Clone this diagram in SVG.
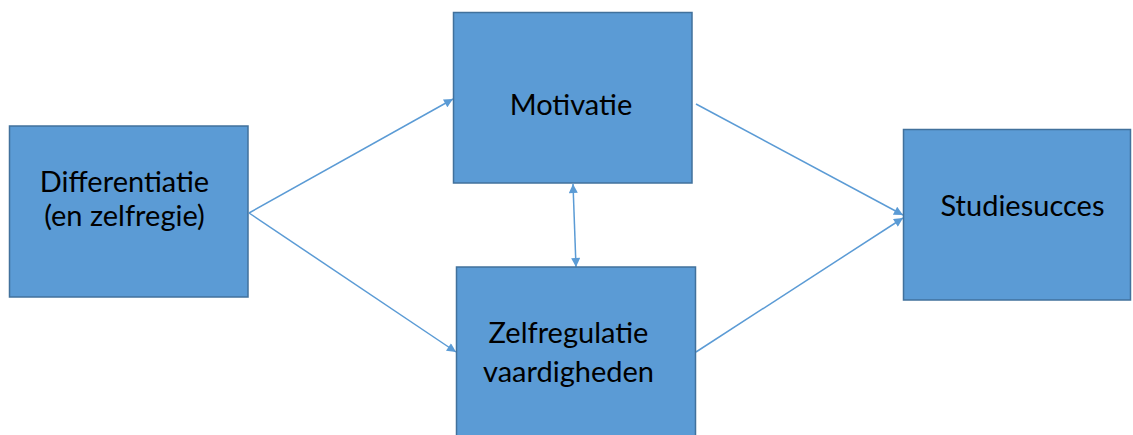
<svg xmlns="http://www.w3.org/2000/svg" width="1133" height="435" viewBox="0 0 1133 435">
  <style>
    .box { fill: #5B9BD5; stroke: #41719C; stroke-width: 1.5; }
    .lbl { font-family: Lato, "Open Sans", sans-serif; font-size: 29px; fill: #000; text-anchor: middle; }
    .con { stroke: #5B9BD5; stroke-width: 1.5; fill: none; }
  </style>
  <defs>
    <marker id="ah" viewBox="0 0 10 10" refX="10" refY="5" markerWidth="10" markerHeight="9" markerUnits="userSpaceOnUse" orient="auto-start-reverse">
      <path d="M0,0 L10,5 L0,10 z" fill="#5B9BD5"/>
    </marker>
  </defs>
  <rect width="1133" height="435" fill="#fff"/>
  <g id="connectors">
    <line class="con" x1="249" y1="213" x2="453" y2="99" marker-end="url(#ah)"/>
    <line class="con" x1="249" y1="213" x2="456" y2="352" marker-end="url(#ah)"/>
    <line class="con" x1="696" y1="104" x2="903" y2="215" marker-end="url(#ah)"/>
    <line class="con" x1="696" y1="352" x2="903" y2="218" marker-end="url(#ah)"/>
    <line class="con" x1="573" y1="184" x2="576" y2="267" marker-start="url(#ah)" marker-end="url(#ah)"/>
  </g>
  <g id="differentiatie">
    <rect class="box" x="9.5" y="126" width="238.5" height="171"/>
    <text class="lbl" x="124.5" y="192">Differentiatie</text>
    <text class="lbl" x="124.5" y="226">(en zelfregie)</text>
  </g>
  <g id="motivatie">
    <rect class="box" x="453.5" y="12.5" width="238.5" height="170.5"/>
    <text class="lbl" x="571" y="115">Motivatie</text>
  </g>
  <g id="zelfregulatie">
    <rect class="box" x="456.5" y="267" width="239" height="175"/>
    <text class="lbl" x="568.5" y="343">Zelfregulatie</text>
    <text class="lbl" x="568.5" y="382">vaardigheden</text>
  </g>
  <g id="studiesucces">
    <rect class="box" x="903.5" y="129.5" width="227" height="170.5"/>
    <text class="lbl" x="1022.5" y="216">Studiesucces</text>
  </g>
</svg>
